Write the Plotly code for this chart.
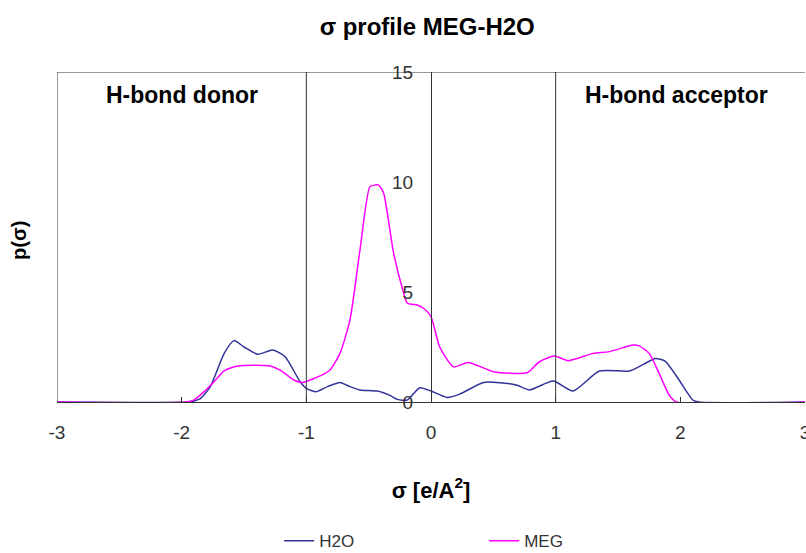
import plotly.graph_objects as go

# ---- data ----
sig_h2o = [-3, -1.95, -1.9, -1.85, -1.77, -1.66, -1.58, -1.5, -1.39, -1.27, -1.17, -1.05, -1.0,
           -0.92, -0.83, -0.73, -0.65, -0.57, -0.43, -0.33, -0.27, -0.19, -0.09, 0.0, 0.13, 0.23,
           0.42, 0.55, 0.69, 0.79, 0.98, 1.14, 1.35, 1.59, 1.7, 1.8, 1.88, 1.99, 2.1, 2.15, 3]
p_h2o = [0, 0, 0.05, 0.15, 0.7, 2.2, 2.79, 2.5, 2.17, 2.36, 2.06, 0.92, 0.62,
         0.47, 0.7, 0.89, 0.7, 0.55, 0.5, 0.3, 0.12, 0.09, 0.65, 0.5, 0.21, 0.36,
         0.89, 0.88, 0.76, 0.55, 0.95, 0.5, 1.41, 1.41, 1.7, 1.98, 1.85, 1.0, 0.09, 0, 0]

sig_meg = [-3, -1.97, -1.9, -1.82, -1.74, -1.66, -1.55, -1.29, -1.21, -1.1, -1.03, -0.86, -0.81,
           -0.73, -0.65, -0.57, -0.49, -0.45, -0.42, -0.38, -0.3, -0.23, -0.19, -0.11, -0.06, 0.0,
           0.07, 0.18, 0.3, 0.5, 0.77, 0.87, 0.99, 1.1, 1.3, 1.43, 1.62, 1.67, 1.75, 1.83, 1.91,
           1.97, 3]
p_meg = [0, 0, 0.1, 0.47, 0.92, 1.42, 1.64, 1.64, 1.45, 1.0, 0.89, 1.27, 1.45,
         2.21, 3.73, 6.9, 9.79, 9.86, 9.86, 9.49, 6.76, 5.17, 4.49, 4.41, 4.26, 3.88,
         2.5, 1.6, 1.8, 1.38, 1.33, 1.83, 2.09, 1.88, 2.21, 2.29, 2.59, 2.55, 2.21, 1.3, 0.32,
         0, 0]

x_ticks = [-3, -2, -1, 0, 1, 2, 3]
y_ticks = [0, 5, 10, 15]
region_lines = [-1, 1]
region_labels = ["H-bond donor", "H-bond acceptor"]
region_label_x = [-2.0, 1.97]

FONT = "Arial, Liberation Sans, sans-serif"
FRAME = "#333333"

fig = go.Figure()
fig.add_trace(go.Scatter(x=sig_h2o, y=p_h2o, mode="lines", name="H2O",
                         line=dict(color="#333399", width=1.5, shape="spline", smoothing=0.6)))
fig.add_trace(go.Scatter(x=sig_meg, y=p_meg, mode="lines", name="MEG",
                         line=dict(color="#FF00FF", width=1.5, shape="spline", smoothing=0.6)))

# frame: top and left edges, and region separators
fig.add_shape(type="line", xref="x", yref="y", x0=-3, x1=3, y0=15, y1=15,
              line=dict(color=FRAME, width=1))
fig.add_shape(type="line", xref="x", yref="y", x0=-3, x1=-3, y0=0, y1=15,
              line=dict(color=FRAME, width=1))
for xv in region_lines:
    fig.add_shape(type="line", xref="x", yref="y", x0=xv, x1=xv, y0=0, y1=15,
                  line=dict(color=FRAME, width=1))

for txt, xv in zip(region_labels, region_label_x):
    fig.add_annotation(x=xv, y=13.95, xref="x", yref="y", text=f"<b>{txt}</b>",
                       showarrow=False, font=dict(family=FONT, size=23, color="black"))

fig.add_annotation(x=-0.05, y=0.49, xref="paper", yref="paper", text="<b>p(σ)</b>",
                   textangle=-90, showarrow=False, xanchor="center", yanchor="middle",
                   font=dict(family=FONT, size=20, color="black"))

fig.update_layout(
    width=806, height=553,
    margin=dict(l=57, r=1, t=72, b=151, autoexpand=False),
    paper_bgcolor="white", plot_bgcolor="white",
    font=dict(family=FONT, size=19, color="#333333"),
    title=dict(text="<b>σ profile MEG-H2O</b>", x=0.53, xanchor="center",
               y=1 - 27 / 553, yanchor="middle", yref="container",
               font=dict(family=FONT, size=24, color="black")),
    showlegend=True,
    legend=dict(orientation="h", x=0.297, xanchor="left", y=-0.367, yanchor="top",
                entrywidth=160, entrywidthmode="pixels",
                font=dict(family=FONT, size=17, color="#333333"), bgcolor="rgba(0,0,0,0)"),
    xaxis=dict(range=[-3, 3], tickvals=x_ticks, ticktext=[str(v) for v in x_ticks],
               showgrid=False, zeroline=False, showline=True, linecolor=FRAME, linewidth=1,
               ticks="inside", ticklen=5, tickcolor=FRAME, ticklabelstandoff=13,
               ticklabeloverflow="allow", automargin=False,
               title=dict(text="<b>σ [e/A<sup>2</sup>]</b>", standoff=40,
                          font=dict(family=FONT, size=22, color="black"))),
    yaxis=dict(range=[0, 15], tickvals=y_ticks, anchor="free", position=0.5,
               showgrid=False, zeroline=False, showline=True, linecolor=FRAME, linewidth=1,
               ticks="", ticklabelstandoff=14, automargin=False),
)

fig.write_html("out.html")
